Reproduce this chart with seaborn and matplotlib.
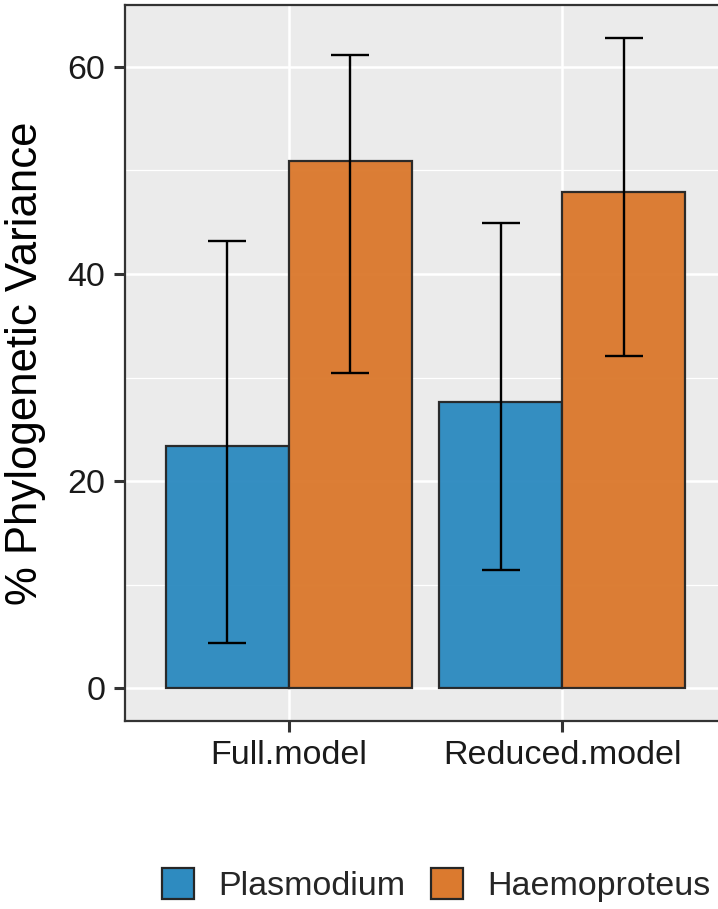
import numpy as np
import pandas as pd
import seaborn as sns
import matplotlib.pyplot as plt
from matplotlib.patches import Patch

# values
models = ['Full.model', 'Reduced.model']
parasites = ['Plasmodium', 'Haemoproteus']
plasmodium = [23.4, 27.6]
haemoproteus = [50.9, 47.9]
plasmodium_lo = [4.4, 11.4]
plasmodium_hi = [43.2, 44.9]
haemoproteus_lo = [30.4, 32.1]
haemoproteus_hi = [61.1, 62.8]
colors = ['#2E8BC0', '#DB7A2F']

df = pd.DataFrame({
    'model': models * 2,
    'parasite': [parasites[0]] * 2 + [parasites[1]] * 2,
    'variance': plasmodium + haemoproteus,
    'lo': plasmodium_lo + haemoproteus_lo,
    'hi': plasmodium_hi + haemoproteus_hi,
})

sns.set_theme(style='darkgrid')
plt.rcParams['font.family'] = ['Liberation Sans', 'DejaVu Sans']

fig = plt.figure(figsize=(7.18, 9.09), dpi=100)
ax = fig.add_axes([125 / 718, 188 / 909, 601 / 718, 716 / 909])
ax.set_facecolor('#EBEBEB')

sns.barplot(data=df, x='model', y='variance', hue='parasite', hue_order=parasites,
            palette=colors, saturation=1, width=0.9, edgecolor='#262626', linewidth=1.6,
            alpha=0.97, legend=False, ax=ax, zorder=2)

# error bars at the bar centres
for cont, p in zip(ax.containers, parasites):
    sub = df[df['parasite'] == p].set_index('model').loc[models]
    xs = [b.get_x() + b.get_width() / 2 for b in cont]
    ys = sub['variance'].values
    ax.errorbar(xs, ys, yerr=[ys - sub['lo'].values, sub['hi'].values - ys],
                fmt='none', ecolor='black', elinewidth=1.7, capsize=13.5,
                capthick=1.7, zorder=3)

ax.set_xlim(-0.6, 1.6)
ax.set_ylim(-3.14, 65.95)
ax.set_yticks([0, 20, 40, 60])
ax.set_yticks([10, 30, 50], minor=True)
ax.grid(True, which='major', color='white', linewidth=1.8, zorder=0)
ax.grid(True, which='minor', axis='y', color='white', linewidth=0.9, zorder=0)
ax.set_axisbelow(True)

for s in ax.spines.values():
    s.set_visible(True)
    s.set_color('#333333')
    s.set_linewidth(1.6)

ax.tick_params(axis='both', which='major', length=8, width=2.2, color='#333333',
               labelsize=24.5, labelcolor='#1A1A1A', pad=6, left=True, bottom=True)
ax.tick_params(axis='both', which='minor', length=0)

ax.set_xlabel('')
ax.set_ylabel('% Phylogenetic Variance', fontsize=31.5, color='black')
ax.yaxis.set_label_coords(-0.132, 0.5)

handles = [Patch(facecolor=c, edgecolor='#262626', linewidth=1.6) for c in colors]
fig.legend(handles, parasites, loc='center', bbox_to_anchor=(436 / 718, 24 / 909),
           ncol=2, frameon=False, fontsize=24.5, handlelength=0.95, handleheight=1.0,
           handletextpad=0.7, columnspacing=0.75)

plt.savefig('out.png', dpi=100)
